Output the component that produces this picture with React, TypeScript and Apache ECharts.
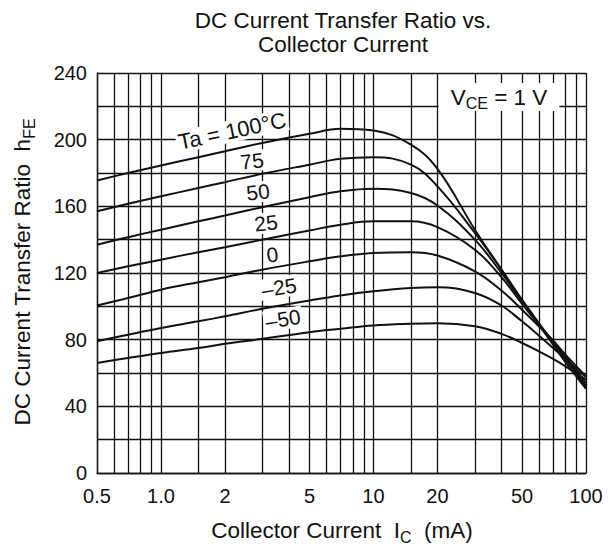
import React, { useEffect, useRef } from "react";
import * as echarts from "echarts";

// Collector current sample points (mA)
const currents = [0.5, 0.7, 1, 1.5, 2, 3, 5, 7, 10, 15, 20, 30, 40, 50, 60, 70, 80, 100];

// hFE for each ambient temperature
const hfe100 = [175.5, 180, 184.5, 189.5, 193, 198, 203.5, 206.5, 205.5, 197, 182.5, 146, 122, 103.5, 89, 77, 66.5, 50.5];
const hfe75 = [157, 161.5, 166, 171, 174.5, 179.5, 185, 188.5, 189.5, 185, 172, 144, 122, 104, 90, 78.5, 68.5, 51.5];
const hfe50 = [137, 141.5, 146, 151, 154.5, 159.5, 165.5, 169, 170.5, 168, 160.5, 140, 120, 103, 89.5, 78.5, 69, 52.5];
const hfe25 = [120, 124, 128, 132.5, 135.5, 140, 145.5, 149, 151, 151, 147.5, 134, 117.5, 101.5, 89, 79, 70, 54];
const hfe0 = [100.5, 105, 110, 114.5, 117.5, 122, 127, 130, 132, 132.5, 130.5, 121, 109.5, 98, 88, 79.5, 71, 58];
const hfeM25 = [79, 83, 87, 91, 94, 98.5, 103.5, 106.5, 109, 111, 111.5, 108, 100.5, 91, 82.5, 75, 68.5, 57.5];
const hfeM50 = [66, 69, 72, 75, 77.5, 80.5, 84.5, 86.5, 88.5, 89.5, 89.8, 88, 83.5, 78, 73, 68.5, 64, 56];

const curves = [
  { name: "100", values: hfe100 },
  { name: "75", values: hfe75 },
  { name: "50", values: hfe50 },
  { name: "25", values: hfe25 },
  { name: "0", values: hfe0 },
  { name: "-25", values: hfeM25 },
  { name: "-50", values: hfeM50 },
];

// Log-paper grid lines and labelled ticks on the current axis
const xGridValues = [0.5, 0.6, 0.7, 0.8, 0.9, 1, 1.5, 2, 3, 4, 5, 6, 7, 8, 9, 10, 15, 20, 30, 40, 50, 60, 70, 80, 90, 100];
const xLabelValues = [0.5, 1, 2, 5, 10, 20, 50, 100];
const xLabelTexts = ["0.5", "1.0", "2", "5", "10", "20", "50", "100"];

// Temperature tags drawn beside the curves
const curveTags = [
  { text: "Ta = 100°C", x: 232, y: 131, angle: 12, size: 22 },
  { text: "75", x: 252, y: 161, angle: 7, size: 21 },
  { text: "50", x: 258, y: 192, angle: 7, size: 21 },
  { text: "25", x: 266, y: 223, angle: 7, size: 21 },
  { text: "0", x: 272.5, y: 254.5, angle: 7, size: 21 },
  { text: "–25", x: 279, y: 287.5, angle: 9, size: 21 },
  { text: "–50", x: 283, y: 319, angle: 9, size: 21 },
];

const FAMILY = '"Liberation Sans", Arial, Helvetica, sans-serif';
const f = (size: number) => `${size}px ${FAMILY}`;
const INK = "#111";

export default function App() {
  const ref = useRef<HTMLDivElement>(null);

  useEffect(() => {
    if (!ref.current) return;
    const chart = echarts.init(ref.current, undefined, { renderer: "svg" });

    const gridLine = { color: "#111", width: 1.3 };

    const tagElements = curveTags.map((t) => ({
      type: "text",
      x: t.x,
      y: t.y,
      rotation: (t.angle * Math.PI) / 180,
      z: 100,
      style: {
        text: t.text,
        font: f(t.size),
        fill: INK,
        align: "center",
        textAlign: "center",
        verticalAlign: "middle",
        textVerticalAlign: "middle",
        backgroundColor: "#fff",
        textBackgroundColor: "#fff",
        padding: [0, 2],
        textPadding: [0, 2],
      },
    }));

    const subRich = (main: number, sub: number, lh: number, subLh: number) => ({
      a: { font: f(main), fill: INK, lineHeight: lh },
      s: { font: f(sub), fill: INK, lineHeight: subLh, verticalAlign: "bottom" },
    });

    chart.setOption({
      animation: false,
      backgroundColor: "#fff",
      grid: { left: 97, right: 25, top: 73, bottom: 71, containLabel: false, outerBoundsMode: "none" },
      xAxis: {
        type: "log",
        logBase: 10,
        min: 0.5,
        max: 100,
        axisLine: { show: true, lineStyle: { color: INK, width: 1.3 } },
        axisTick: { show: false, customValues: xGridValues },
        axisLabel: {
          customValues: xLabelValues,
          margin: 13,
          color: INK,
          fontSize: 20,
          fontFamily: FAMILY,
          formatter: (v: number) => {
            const i = xLabelValues.findIndex((x) => Math.abs(x - v) < 1e-6 * Math.max(1, x));
            return i >= 0 ? xLabelTexts[i] : "";
          },
        },
        splitLine: { show: true, lineStyle: gridLine },
        minorSplitLine: { show: false },
      },
      yAxis: {
        type: "value",
        min: 0,
        max: 240,
        interval: 20,
        axisLine: { show: true, lineStyle: { color: INK, width: 1.3 } },
        axisTick: { show: false },
        axisLabel: {
          margin: 10,
          color: INK,
          fontSize: 20,
          fontFamily: FAMILY,
          formatter: (v: number) => (v % 40 === 0 ? String(v) : ""),
        },
        splitLine: { show: true, lineStyle: gridLine },
      },
      series: curves.map((c) => ({
        name: c.name,
        type: "line",
        data: currents.map((x, i) => [x, c.values[i]]),
        showSymbol: false,
        symbol: "none",
        smooth: 0.4,
        silent: true,
        z: 5,
        lineStyle: { color: INK, width: 2 },
      })),
      graphic: [
        {
          type: "text",
          x: 343,
          y: 20,
          style: {
            text: "DC Current Transfer Ratio vs.",
            font: f(22.5),
            fill: INK,
            align: "center",
            textAlign: "center",
            verticalAlign: "middle",
            textVerticalAlign: "middle",
          },
        },
        {
          type: "text",
          x: 343,
          y: 44.5,
          style: {
            text: "Collector Current",
            font: f(22.5),
            fill: INK,
            align: "center",
            textAlign: "center",
            verticalAlign: "middle",
            textVerticalAlign: "middle",
          },
        },
        {
          type: "text",
          x: 342,
          y: 530,
          style: {
            text: "{a|Collector Current  I}{s|C}{a|  (mA)}",
            rich: subRich(22.5, 16, 30, 14),
            align: "center",
            textAlign: "center",
            verticalAlign: "middle",
            textVerticalAlign: "middle",
          },
        },
        {
          type: "text",
          x: 22.5,
          y: 272,
          rotation: Math.PI / 2,
          style: {
            text: "{a|DC Current Transfer Ratio  h}{s|FE}",
            rich: subRich(22.5, 16, 30, 14),
            align: "center",
            textAlign: "center",
            verticalAlign: "middle",
            textVerticalAlign: "middle",
          },
        },
        {
          type: "text",
          x: 499,
          y: 97,
          z: 100,
          style: {
            text: "{a|V}{s|CE}{a| = 1 V}",
            rich: subRich(22.5, 16, 28, 13),
            align: "center",
            textAlign: "center",
            verticalAlign: "middle",
            textVerticalAlign: "middle",
            backgroundColor: "#fff",
            textBackgroundColor: "#fff",
            padding: [0, 12],
            textPadding: [0, 12],
          },
        },
        ...tagElements,
      ],
    });

    return () => chart.dispose();
  }, []);

  return (
    <div
      ref={ref}
      style={{ position: "fixed", left: 0, top: 0, width: 611, height: 544, background: "#fff" }}
    />
  );
}
